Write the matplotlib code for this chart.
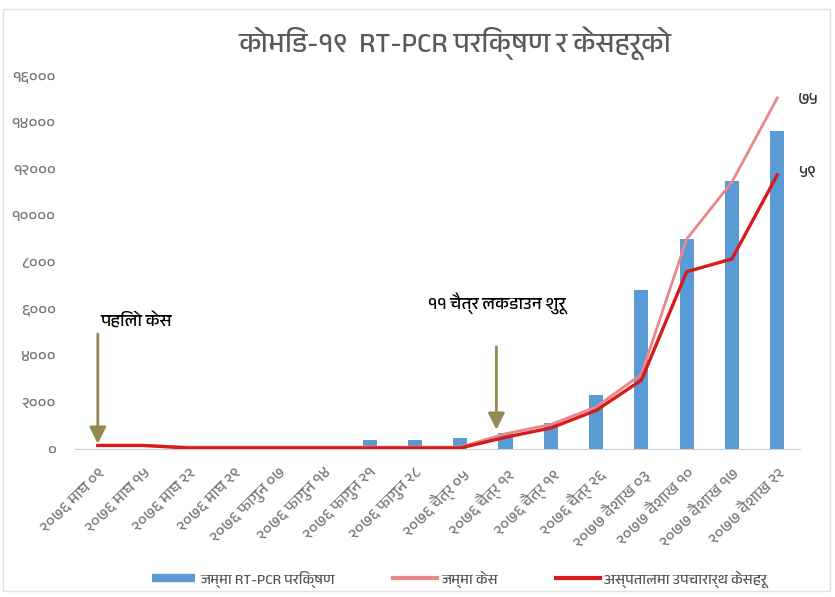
import numpy as np
import matplotlib.pyplot as plt
from matplotlib import font_manager
from matplotlib.lines import Line2D

# pick a font that has Devanagari, if any is installed
deva = [f.name for f in font_manager.fontManager.ttflist
        if any(k in f.name for k in ('Devanagari', 'Lohit', 'Mukta', 'Kalimati', 'Mangal', 'Gargi', 'Nakula', 'Sahadeva'))]
families = sorted(set(deva)) + ['Noto Sans', 'DejaVu Sans']
plt.rcParams['font.family'] = families

dates = ['२०७६ माघ ०९', '२०७६ माघ १५', '२०७६ माघ २२', '२०७६ माघ २९',
         '२०७६ फागुन ०७', '२०७६ फागुन १४', '२०७६ फागुन २१', '२०७६ फागुन २८',
         '२०७६ चैत्र ०५', '२०७६ चैत्र १२', '२०७६ चैत्र १९', '२०७६ चैत्र २६',
         '२०७७ वैशाख ०३', '२०७७ वैशाख १०', '२०७७ वैशाख १७', '२०७७ वैशाख २२']
tests = [10, 10, 10, 10, 10, 10, 400, 400, 470, 700, 1100, 2300, 6800, 9000, 11500, 13650]
total_cases = [150, 150, 80, 80, 80, 80, 80, 80, 80, 650, 1050, 1800, 3200, 9000, 11450, 15050]
hospital_cases = [150, 150, 40, 40, 40, 40, 40, 40, 40, 500, 900, 1650, 2950, 7600, 8150, 11750]
yticks = [0, 2000, 4000, 6000, 8000, 10000, 12000, 14000, 16000]
ytick_labels = ['०', '२०००', '४०००', '६०००', '८०००', '१००००', '१२०००', '१४०००', '१६०००']

BLUE, PINK, RED = '#5B9BD5', '#E8888C', '#D91A1A'
x = np.arange(len(dates))

fig = plt.figure(figsize=(8.35, 5.97), dpi=100)
ax = fig.add_axes([0.09, 0.248, 0.868, 0.625])

ax.bar(x, tests, width=0.31, color=BLUE, zorder=2)
ax.plot(x, total_cases, color=PINK, lw=2, zorder=3)
ax.plot(x, hospital_cases, color=RED, lw=2.4, zorder=4)

ax.set_xlim(-0.5, 15.5)
ax.set_ylim(0, 16000)
ax.set_yticks(yticks)
ax.set_yticklabels(ytick_labels, color='#777777', fontsize=11.5)
ax.set_xticks(x)
ax.set_xticklabels(dates, rotation=45, ha='right', rotation_mode='anchor',
                   color='#777777', fontsize=11.5)
ax.tick_params(axis='x', length=0, pad=12)
ax.tick_params(axis='y', length=0, pad=14)
for s in ['top', 'right', 'left']:
    ax.spines[s].set_visible(False)
ax.spines['bottom'].set_color('#D0D0D0')

# annotations
arrow_col = '#948A54'
ax.annotate('', xy=(0, 100), xytext=(0, 5050),
            arrowprops=dict(arrowstyle='-|>,head_width=0.5,head_length=1', color=arrow_col, lw=2))
ax.text(0.05, 5300, 'पहिलो केस', fontsize=12.5, color='black')
ax.annotate('', xy=(8.8, 700), xytext=(8.8, 4500),
            arrowprops=dict(arrowstyle='-|>,head_width=0.5,head_length=1', color=arrow_col, lw=2))
ax.text(8.8, 6000, '११ चैत्र लकडाउन शुरू', fontsize=12.5, color='black', ha='center')

ax.text(15.45, total_cases[-1] - 100, '७५', fontsize=12, color='#333333', ha='left', va='center', fontweight='bold')
ax.text(15.45, hospital_cases[-1] + 100, '५९', fontsize=12, color='#333333', ha='left', va='center', fontweight='bold')

fig.suptitle('कोभिड-१९  RT-PCR परिक्षण र केसहरूको', x=0.545, y=0.955, fontsize=20, color='#595959')

handles = [Line2D([], [], color=BLUE, lw=6, solid_capstyle='butt'),
           Line2D([], [], color=PINK, lw=3),
           Line2D([], [], color=RED, lw=3)]
labels = ['जम्मा RT-PCR परिक्षण', 'जम्मा केस', 'अस्पतालमा उपचारार्थ केसहरू']
fig.legend(handles, labels, loc='center', bbox_to_anchor=(0.55, 0.03), ncol=3, frameon=False,
           fontsize=10.5, handlelength=3, handletextpad=0.3, columnspacing=4, labelcolor='#555555')

fig.patches.append(plt.Rectangle((0.004, 0.01), 0.99, 0.975, transform=fig.transFigure,
                                 fill=False, edgecolor='#E0E0E0', lw=1))

fig.savefig('out.png', dpi=100)
